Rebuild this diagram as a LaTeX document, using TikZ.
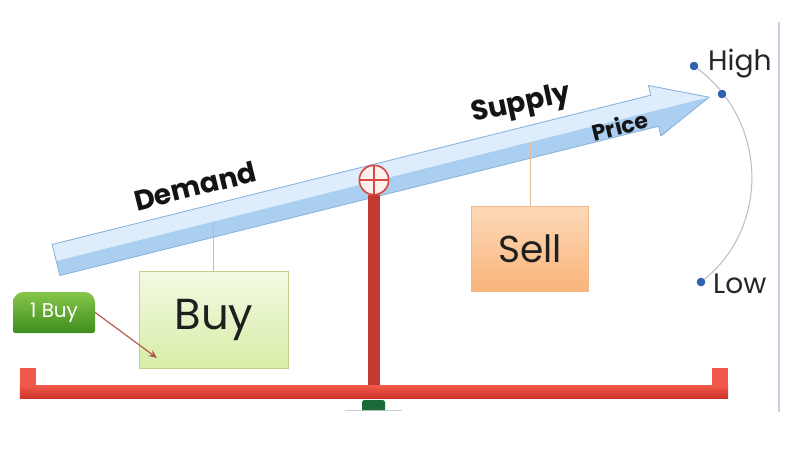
\documentclass[tikz,border=0pt]{standalone}
\usepackage{fontspec}
\setmainfont{Poppins}
\usetikzlibrary{arrows.meta}
\definecolor{arrowlight}{HTML}{DEEDFB}
\definecolor{arrowdark}{HTML}{AACFF1}
\definecolor{arrowborder}{HTML}{86B1DC}
\definecolor{buytop}{HTML}{F3FAE3}
\definecolor{buybot}{HTML}{D6EDA6}
\definecolor{buyborder}{HTML}{BCD48E}
\definecolor{selltop}{HTML}{FDD9B8}
\definecolor{sellbot}{HTML}{F9B47A}
\definecolor{sellborder}{HTML}{F1B98A}
\definecolor{buyline}{HTML}{B7C59B}
\definecolor{sellline}{HTML}{E5BB98}
\definecolor{onetop}{HTML}{86C64A}
\definecolor{onebot}{HTML}{3E8D1E}
\definecolor{redtop}{HTML}{F0584A}
\definecolor{redbot}{HTML}{CC3328}
\definecolor{polered}{HTML}{C53A30}
\definecolor{pivotred}{HTML}{D64A40}
\definecolor{pivotfill}{HTML}{FDF0EE}
\definecolor{footgreen}{HTML}{1A6A3A}
\definecolor{dotblue}{HTML}{2F62AD}
\definecolor{arcgray}{HTML}{B9C0CC}
\definecolor{rightgray}{HTML}{C9D1E2}
\definecolor{hintred}{HTML}{B45750}
\tikzset{
  boxtext/.style={font=\fontsize{32}{32}\selectfont, text=black!88, inner sep=0pt},
  buybox/.style={boxtext, draw=buyborder, line width=0.8pt, top color=buytop, bottom color=buybot,
    minimum width=4.47cm, minimum height=2.9cm},
  sellbox/.style={boxtext, draw=sellborder, line width=0.8pt, top color=selltop, bottom color=sellbot,
    minimum width=3.5cm, minimum height=2.57cm},
  bigword/.style={font=\bfseries\fontsize{24}{24}\selectfont, text=black!92, inner sep=0pt},
  tagtext/.style={font=\fontsize{24}{24}\selectfont, text=black!85, inner sep=0pt, anchor=west},
  dotnode/.style={circle, fill=dotblue, inner sep=0pt, minimum size=0.25cm},
  hanger/.style={line width=0.8pt},
}
\begin{document}
\begin{tikzpicture}[x=0.03cm,y=-0.03cm]
\useasboundingbox (0,0) rectangle (800,450);
\fill[white] (0,0) rectangle (800,450);

% right vertical rule
\draw[rightgray, line width=1.3pt] (779,22) -- (779,412);

% big arrow
\begin{scope}[shift={(56,260)}, rotate=14]
  \fill[arrowdark] (0,-16) -- (617,-16) -- (617,-26) -- (673,0) -- (617,26) -- (617,16) -- (0,16) -- cycle;
  \fill[arrowlight] (0,-16) -- (617,-16) -- (617,-26) -- (673,0) -- (0,1) -- cycle;
  \draw[arrowborder, line width=0.7pt] (0,-16) -- (617,-16) -- (617,-26) -- (673,0) -- (617,26) -- (617,16) -- (0,16) -- cycle;
\end{scope}
\coordinate (buyaxis) at (213.8,221);
\coordinate (sellaxis) at (530,142);

% arrow words
\node[bigword, rotate=14] (demand) at (195,186) {Demand};
\node[bigword, rotate=12] (supply) at (521,105) {Supply};
\node[bigword, rotate=14, font=\bfseries\fontsize{19}{19}\selectfont] (price) at (620,126) {Price};

% boxes
\node[buybox, font=\fontsize{37}{37}\selectfont] (buy) at (213.8,320) {Buy};
\node[sellbox] (sell) at (530,249) {Sell};
\draw[hanger, buyline] (buy.north) -- (buyaxis);
\draw[hanger, sellline] (sell.north) -- (sellaxis);

% 1 Buy tag
\path[top color=onetop, bottom color=onebot]
  (54,333) [rounded corners=2pt] -- (13,333) [rounded corners=9pt] -- (13,292) -- (95,292) [rounded corners=2pt] -- (95,333) -- cycle;
\node[font=\fontsize{17}{17}\selectfont, text=white, minimum width=2.46cm, minimum height=1.23cm, inner sep=0pt] (onebuy) at (54,312.5) {1 Buy};
\coordinate (buytip) at (157,358);
\draw[hintred, line width=1pt, -{Stealth[length=7pt,width=6pt]}] (onebuy.east) -- (buytip);

% seesaw
\node[circle, draw=pivotred, line width=1.4pt, fill=pivotfill, minimum size=0.88cm, inner sep=0pt] (pivot) at (374,180) {};
\draw[pivotred, line width=1.1pt] (pivot.north) -- (pivot.south) (pivot.west) -- (pivot.east);
\node[top color=redtop, bottom color=redbot, minimum width=21.24cm, minimum height=0.38cm, inner sep=0pt] (beam) at (374,392) {};
\fill[redtop] (20,368) rectangle (36,387);
\fill[redtop] (712,368) rectangle (728,387);
\draw[polered, line width=11pt] (pivot.south) -- (pivot.south |- beam.north);
\draw[black!20, line width=0.6pt] (345,410) -- (402,410);
\fill[footgreen] (362,410) [rounded corners=1.5pt] -- (362,400) -- (385,400) [sharp corners] -- (385,410) -- cycle;

% price scale
\node[dotnode] (hidot) at (694,66) {};
\node[dotnode] (middot) at (722,94) {};
\node[dotnode] (lowdot) at (701,282) {};
\draw[arcgray, line width=0.9pt] (hidot.center) .. controls (770,120) and (770,230) .. (lowdot.center);
\node[dotnode] at (middot) {};
\node[dotnode] at (hidot) {};
\node[dotnode] at (lowdot) {};
\node[tagtext] (high) at (708,64) {High};
\node[tagtext] (low) at (713,284) {Low};
\end{tikzpicture}
\end{document}
